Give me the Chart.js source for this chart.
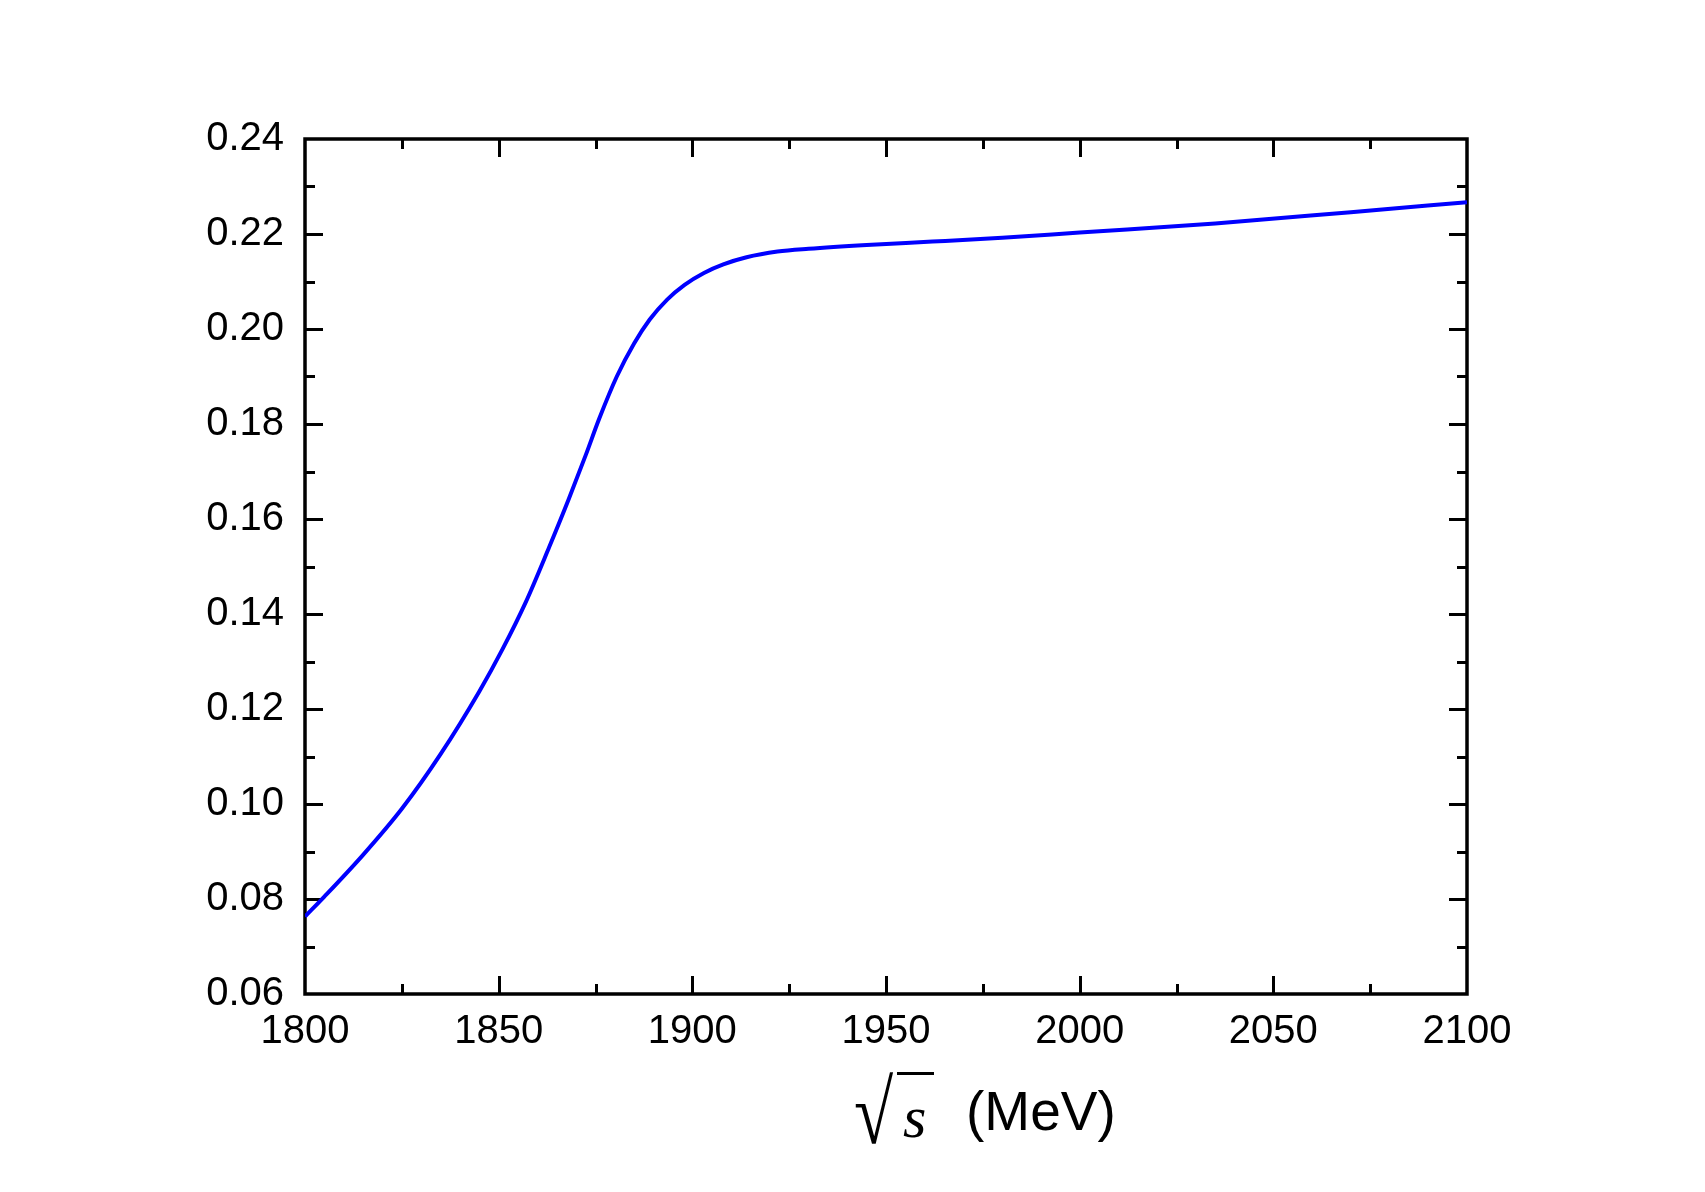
<!DOCTYPE html>
<html>
<head>
<meta charset="utf-8">
<script src="https://cdn.jsdelivr.net/npm/chart.js@4.4.1/dist/chart.umd.min.js"></script>
<style>
    html, body { margin: 0; padding: 0; background: #fff; }
    #wrap { width: 1705px; height: 1192px; }
</style>
</head>
<body>
<div id="wrap"><canvas id="chart"></canvas></div>
<script>
// sqrt(s) in MeV
const energies = [1800, 1805, 1815, 1825, 1835, 1845, 1851, 1857, 1863, 1868, 1872.5, 1876, 1880.5,
    1885, 1889, 1893.5, 1898, 1903, 1908, 1914, 1922, 1930, 1945, 1962, 1980, 2000, 2035, 2070, 2100];
const values = [0.0763, 0.0805, 0.0893, 0.0990, 0.1105, 0.1237, 0.1326, 0.1425, 0.1540, 0.1640, 0.1735, 0.1812, 0.1900,
    0.1970, 0.2020, 0.2062, 0.2093, 0.2118, 0.2136, 0.2151, 0.2163, 0.2169, 0.2177, 0.2184, 0.2192, 0.2203, 0.2222, 0.2246, 0.2267];

const xMin = 1800, xMax = 2100, xStep = 50, xMinorStep = 25;
const yMin = 0.06, yMax = 0.24, yStep = 0.02, yMinorStep = 0.01;

const FONT = '"Liberation Sans", Arial, Helvetica, sans-serif';

// frame + inward ticks on all four sides (Origin style)
const frameTicks = {
    id: 'frameTicks',
    beforeDatasetsDraw(chart) {
        const { ctx, chartArea: a, scales } = chart;
        ctx.save();
        ctx.strokeStyle = '#000';
        ctx.lineWidth = 3.5;
        ctx.lineCap = 'butt';
        ctx.strokeRect(a.left, a.top, a.right - a.left, a.bottom - a.top);

        const major = 18, minor = 10;
        ctx.lineWidth = 3;
        ctx.beginPath();
        const nx = Math.round((xMax - xMin) / xMinorStep);
        for (let i = 1; i < nx; i++) {
            const v = xMin + i * xMinorStep;
            const len = (i % 2 === 0) ? major : minor;
            const px = Math.round(scales.x.getPixelForValue(v)) + 0.5;
            ctx.moveTo(px, a.bottom); ctx.lineTo(px, a.bottom - len);
            ctx.moveTo(px, a.top); ctx.lineTo(px, a.top + len);
        }
        const ny = Math.round((yMax - yMin) / yMinorStep);
        for (let i = 1; i < ny; i++) {
            const v = yMin + i * yMinorStep;
            const len = (i % 2 === 0) ? major : minor;
            const py = Math.round(scales.y.getPixelForValue(v)) + 0.5;
            ctx.moveTo(a.left, py); ctx.lineTo(a.left + len, py);
            ctx.moveTo(a.right, py); ctx.lineTo(a.right - len, py);
        }
        ctx.stroke();
        ctx.restore();
    }
};

// x axis title: sqrt(s) (MeV)
const axisTitle = {
    id: 'axisTitle',
    afterDraw(chart) {
        const { ctx } = chart;
        ctx.save();
        ctx.fillStyle = '#000';
        ctx.textBaseline = 'alphabetic';
        ctx.textAlign = 'left';
        // radical sign, stretched to the height used in the original
        ctx.save();
        ctx.translate(854, 1143);
        ctx.scale(1.05, 1.32);
        ctx.font = '68px "Liberation Serif", "Times New Roman", serif';
        ctx.fillText('\u221A', 0, 0);
        ctx.restore();
        ctx.fillRect(897, 1072, 37, 3);
        ctx.font = 'italic 60px "Liberation Serif", "Times New Roman", serif';
        ctx.fillText('s', 903, 1137);
        ctx.font = '55px ' + FONT;
        ctx.fillText('(MeV)', 966, 1130);
        ctx.restore();
    }
};

new Chart(document.getElementById('chart'), {
    type: 'line',
    data: {
        datasets: [{
            data: energies.map((e, i) => ({ x: e, y: values[i] })),
            borderColor: '#0000ff',
            borderWidth: 4,
            pointRadius: 0,
            fill: false,
            cubicInterpolationMode: 'monotone'
        }]
    },
    options: {
        responsive: true,
        maintainAspectRatio: false,
        animation: false,
        layout: { padding: { left: 0, top: 139, right: 238, bottom: 0 } },
        plugins: {
            legend: { display: false },
            tooltip: { enabled: false }
        },
        scales: {
            x: {
                type: 'linear',
                min: xMin,
                max: xMax,
                grid: { display: false, drawTicks: false },
                border: { display: false },
                ticks: {
                    stepSize: xStep,
                    padding: 14,
                    color: '#000',
                    font: { family: FONT, size: 40 },
                    maxRotation: 0,
                    callback: v => String(v)
                },
                afterFit(scale) { scale.height = 198; }
            },
            y: {
                type: 'linear',
                min: yMin,
                max: yMax,
                grid: { display: false, drawTicks: false },
                border: { display: false },
                ticks: {
                    stepSize: yStep,
                    padding: 21,
                    color: '#000',
                    font: { family: FONT, size: 40 },
                    callback: v => Number(v).toFixed(2)
                },
                afterFit(scale) { scale.width = 305; }
            }
        }
    },
    plugins: [frameTicks, axisTitle]
});
</script>
</body>
</html>
